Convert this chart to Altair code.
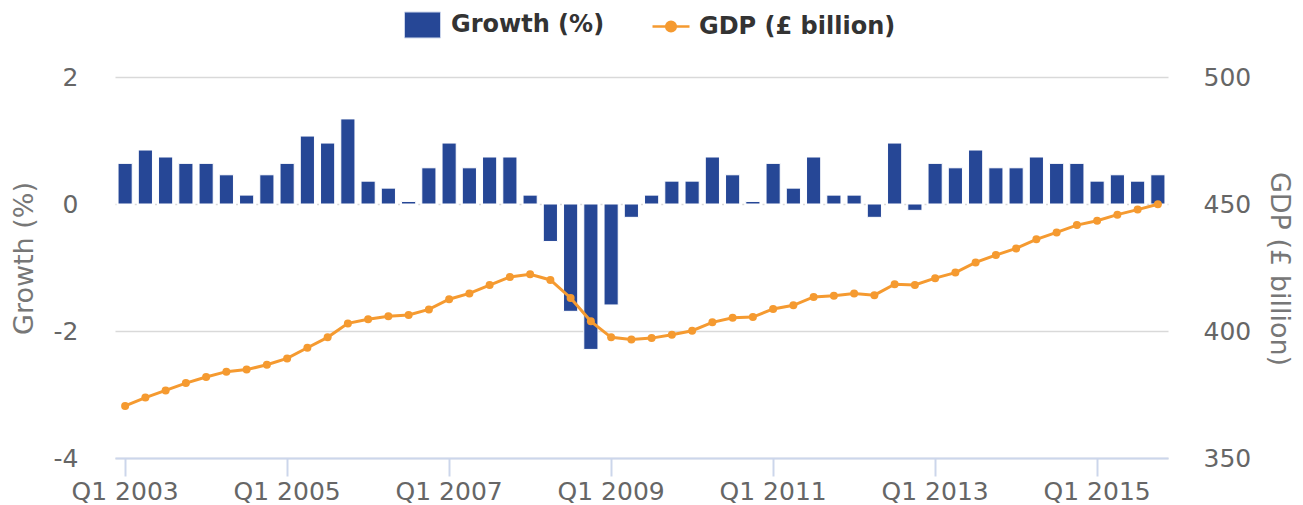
import altair as alt
import pandas as pd

years = list(range(2003, 2016))
quarters = [f"Q{q} {y}" for y in years for q in (1, 2, 3, 4)]

growth = [
    0.64, 0.85, 0.74, 0.64,
    0.64, 0.46, 0.14, 0.46,
    0.64, 1.07, 0.96, 1.34,
    0.36, 0.25, 0.04, 0.57,
    0.96, 0.57, 0.74, 0.74,
    0.14, -0.59, -1.69, -2.29,
    -1.59, -0.21, 0.14, 0.36,
    0.36, 0.74, 0.46, 0.04,
    0.64, 0.25, 0.74, 0.14,
    0.14, -0.21, 0.96, -0.10,
    0.64, 0.57, 0.85, 0.57,
    0.57, 0.74, 0.64, 0.64,
    0.36, 0.46, 0.36, 0.46,
]

gdp = [
    370.5, 373.8, 376.6, 379.5,
    381.9, 384.0, 384.8, 386.7,
    389.2, 393.4, 397.5, 403.0,
    404.6, 405.8, 406.3, 408.5,
    412.5, 414.8, 418.1, 421.3,
    422.3, 420.1, 413.0, 403.8,
    397.5, 396.7, 397.2, 398.5,
    400.1, 403.4, 405.2, 405.5,
    408.7, 410.1, 413.4, 413.9,
    414.8, 414.1, 418.4, 418.1,
    420.8, 423.0, 427.0, 429.9,
    432.5, 436.1, 438.8, 441.7,
    443.4, 445.8, 447.8, 449.9,
]

x_labels = ["Q1 2003", "Q1 2005", "Q1 2007", "Q1 2009", "Q1 2011", "Q1 2013", "Q1 2015"]

BLUE = "#264796"
ORANGE = "#f59a30"
FONT = "DejaVu Sans"

df = pd.DataFrame({
    "quarter": quarters,
    "growth": growth,
    "gdp": gdp,
    "gname": ["Growth (%)"] * len(quarters),
    "lname": ["GDP (£ billion)"] * len(quarters),
})

x_enc = alt.X(
    "quarter:N",
    sort=quarters,
    scale=alt.Scale(paddingInner=0.3, paddingOuter=0.15),
    axis=alt.Axis(
        title=None,
        values=x_labels,
        labelAngle=0,
        labelFontSize=25,
        labelColor="#666666",
        labelPadding=3,
        tickSize=18,
        tickColor="#ccd6eb",
        tickWidth=2,
        domainColor="#ccd6eb",
        domainWidth=2,
        grid=False,
    ),
)

rect_path = "M-1,-0.72H1V0.72H-1Z"
line_path = "M-1,0H1M0.26,0A0.26,0.26 0 1,1 -0.26,0A0.26,0.26 0 1,1 0.26,0Z"

bars = alt.Chart(df).mark_bar(stroke="white", strokeWidth=1).encode(
    x=x_enc,
    y=alt.Y(
        "growth:Q",
        scale=alt.Scale(domain=[-4, 2], nice=False, zero=False),
        axis=alt.Axis(
            orient="left",
            title="Growth (%)",
            values=[-4, -2, 0, 2],
            labelExpr="toString(datum.value)",
            labelFontSize=25,
            labelColor="#666666",
            labelPadding=37,
            ticks=False,
            domain=False,
            grid=True,
            gridColor="#d9d9d9",
            gridWidth=1.5,
            gridDash={"condition": {"test": "datum.value === 0", "value": [2, 18.25]}, "value": []},
            gridDashOffset=1,
            titleFontSize=27,
            titleFontWeight="normal",
            titleColor="#777777",
            titleAngle=270,
            titleX=-91,
            titleY=181,
            titleBaseline="middle",
            titleAlign="center",
        ),
    ),
    fill=alt.Fill(
        "gname:N",
        scale=alt.Scale(domain=["Growth (%)"], range=[BLUE]),
        legend=alt.Legend(
            title=None,
            orient="none",
            legendX=289,
            legendY=-70.5,
            padding=0,
            symbolType=rect_path,
            symbolSize=1296,
            symbolStrokeWidth=1,
            symbolStrokeColor="#c9d3ea",
            labelFontSize=24,
            labelFontWeight="bold",
            labelColor="#333333",
            labelOffset=10,
            labelLimit=400,
        ),
    ),
)

y_right = alt.Y(
    "gdp:Q",
    scale=alt.Scale(domain=[350, 500], nice=False, zero=False),
    axis=alt.Axis(
        orient="right",
        title="GDP (£ billion)",
        values=[350, 400, 450, 500],
        labelFontSize=25,
        labelColor="#666666",
        labelPadding=35,
        ticks=False,
        domain=False,
        grid=False,
        titleFontSize=27,
        titleFontWeight="normal",
        titleColor="#777777",
        titleAngle=90,
        titleX=110,
        titleY=191.5,
        titleBaseline="middle",
        titleAlign="center",
    ),
)

line = alt.Chart(df).mark_line(strokeWidth=3).encode(
    x=alt.X("quarter:N", sort=quarters),
    y=y_right,
    stroke=alt.Stroke(
        "lname:N",
        scale=alt.Scale(domain=["GDP (£ billion)"], range=[ORANGE]),
        legend=alt.Legend(
            title=None,
            orient="none",
            legendX=536,
            legendY=-70.5,
            padding=0,
            symbolType=line_path,
            symbolSize=1369,
            symbolStrokeWidth=2.5,
            symbolFillColor=ORANGE,
            labelFontSize=24,
            labelFontWeight="bold",
            labelColor="#333333",
            labelOffset=8,
            labelLimit=400,
        ),
    ),
)

pts = alt.Chart(df).mark_circle(size=64, color=ORANGE, opacity=1).encode(
    x=alt.X("quarter:N", sort=quarters),
    y=alt.Y("gdp:Q"),
)

chart = alt.layer(bars, alt.layer(line, pts)).resolve_scale(
    y="independent"
).properties(
    width=1053,
    height=381,
    autosize=alt.AutoSizeParams(type="none"),
    padding={"left": 107, "top": 69, "right": 127, "bottom": 47},
).configure(
    font=FONT,
).configure_view(stroke=None)

chart.save("out.html", embed_options={"renderer": "svg", "actions": False})
